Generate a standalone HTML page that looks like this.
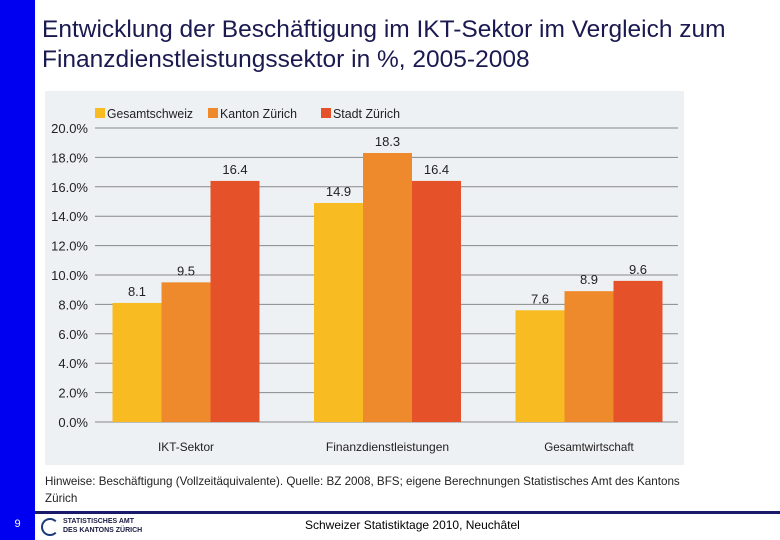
<!DOCTYPE html>
<html><head><meta charset="utf-8"><style>
body{margin:0;width:780px;height:540px;position:relative;background:#fff;font-family:"Liberation Sans",sans-serif;overflow:hidden}
div,span{position:absolute}
</style></head><body>
<div style="left:0;top:0;width:35px;height:540px;background:#0000f0"></div>
<div style="left:42px;top:15px;font-size:24.5px;line-height:30px;color:#1a1a50;white-space:nowrap">Entwicklung der Beschäftigung im IKT-Sektor im Vergleich zum<br>Finanzdienstleistungssektor in %, 2005-2008</div>
<div style="left:35px;top:511px;width:745px;height:3px;background:#1a1a6a"></div>
<div style="left:0;top:518px;width:35px;text-align:center;color:#fff;font-size:11px">9</div>
<div style="left:41px;top:518px;width:14px;height:14px;border-radius:50%;border:2px solid #1a3a7a;border-right-color:transparent"></div>
<div style="left:63px;top:517px;font-size:7px;font-weight:bold;line-height:9px;color:#1a1a40">STATISTISCHES AMT<br>DES KANTONS ZÜRICH</div>
<div style="left:305px;top:518px;font-size:12px;color:#000">Schweizer Statistiktage 2010, Neuchâtel</div>
<div style="left:45px;top:473px;font-size:12px;line-height:17px;color:#222;transform:scaleX(0.97);transform-origin:left;white-space:nowrap">Hinweise: Beschäftigung (Vollzeitäquivalente). Quelle: BZ 2008, BFS; eigene Berechnungen Statistisches Amt des Kantons<br>Zürich</div>
<svg style="position:absolute;left:0;top:0" width="780" height="540" id="chart"></svg>
<script>
const categories=["IKT-Sektor","Finanzdienstleistungen","Gesamtwirtschaft"];
const seriesNames=["Gesamtschweiz","Kanton Zürich","Stadt Zürich"];
const gesamtschweiz=[8.1,14.9,7.6];
const kantonZuerich=[9.5,18.3,8.9];
const stadtZuerich=[16.4,16.4,9.6];
const ticks=[0,2,4,6,8,10,12,14,16,18,20];
const colors=["#f8bb22","#ee8a2c","#e5522a"];
const series=[gesamtschweiz,kantonZuerich,stadtZuerich];
const svg=document.getElementById('chart');
const NS="http://www.w3.org/2000/svg";
function y(v){return 422-v*14.7;}
function gx(i){return 186+i*201.5;}
function mk(t,a){const e=document.createElementNS(NS,t);for(const k in a)e.setAttribute(k,a[k]);svg.appendChild(e);return e;}
const bg=mk('rect',{x:45,y:91,width:639,height:374,fill:'#eef1f4'});


ticks.forEach(t=>{
 const l=mk('line',{x1:95,x2:678,y1:y(t),y2:y(t),stroke:'#888','stroke-width':1});
 
 
 const tx=mk('text',{x:88,y:y(t)+5,'text-anchor':'end','font-size':13,fill:'#222','font-family':'Liberation Sans'});
 tx.textContent=t.toFixed(1)+'%';
 
 
});
const bw=49;
categories.forEach((c,i)=>{
 series.forEach((s,j)=>{
  const x=gx(i)-1.5*bw+j*bw;
  const r=mk('rect',{x:x,y:y(s[i]),width:bw,height:y(0)-y(s[i]),fill:colors[j]});
  
  
  const t=mk('text',{x:x+bw/2,y:y(s[i])-7,'text-anchor':'middle','font-size':13,fill:'#222','font-family':'Liberation Sans'});
  t.textContent=s[i].toFixed(1);
  
  
 });
 const cl=mk('text',{x:gx(i),y:451,'text-anchor':'middle','font-size':12,fill:'#222','font-family':'Liberation Sans',textLength:c.length*5.6,lengthAdjust:'spacingAndGlyphs'});
 cl.textContent=c;
 
 
});
const lx=[95,208,321];
const lw=[86,77,67];
seriesNames.forEach((n,j)=>{
 const r=mk('rect',{x:lx[j],y:108,width:10,height:10,fill:colors[j]});
 
 
 const t=mk('text',{x:lx[j]+12,y:118,'font-size':13,fill:'#222','font-family':'Liberation Sans',textLength:lw[j],lengthAdjust:'spacingAndGlyphs'});
 t.textContent=n;
 
 
});
</script>
</body></html>
